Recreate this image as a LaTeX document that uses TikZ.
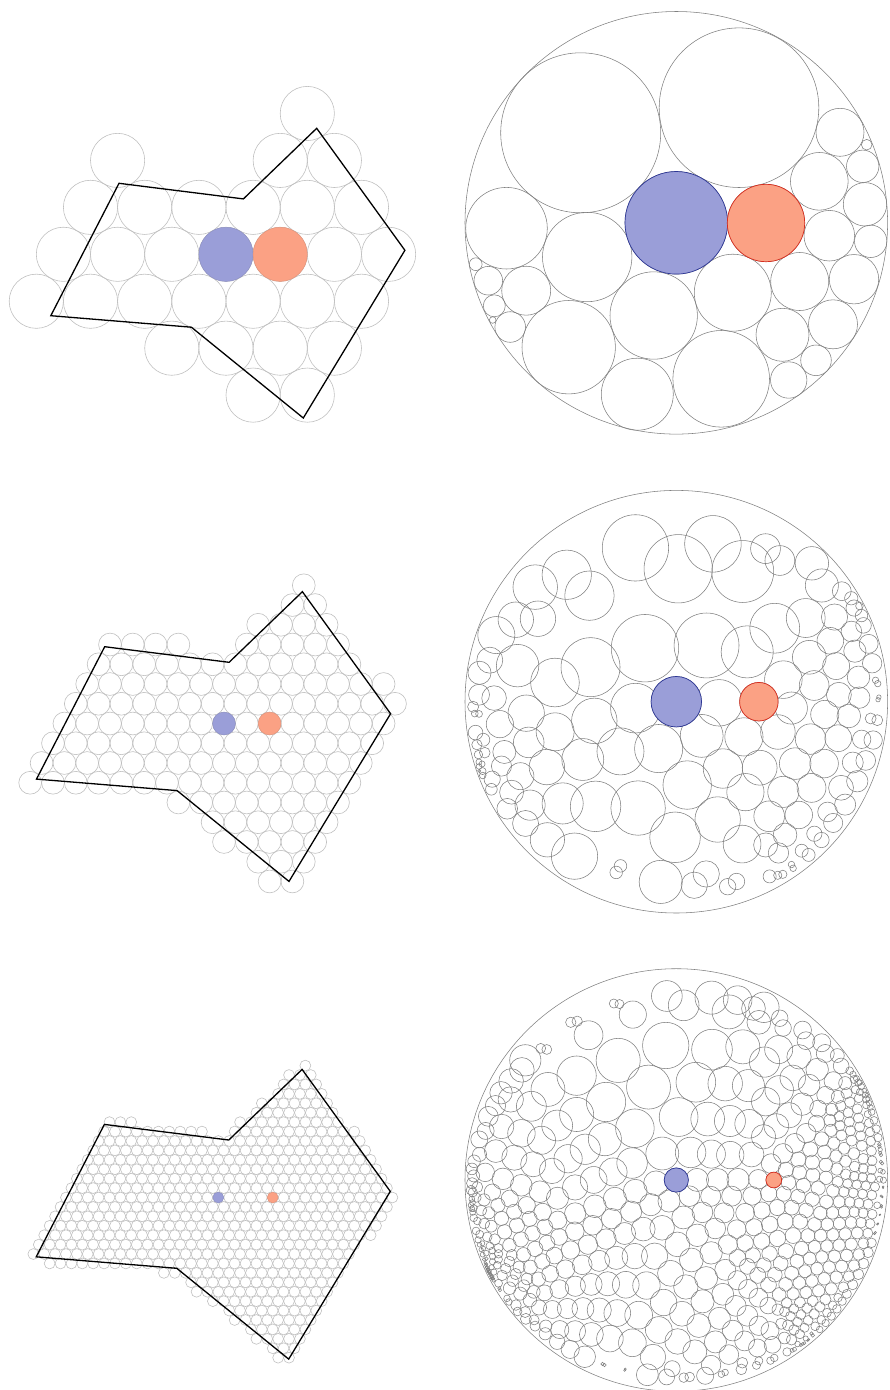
\documentclass[tikz,border=0pt]{standalone}
\usepackage{tikz}
\usetikzlibrary{calc}

\definecolor{latgray}{RGB}{192,192,192}
\definecolor{packgray}{RGB}{128,128,128}
\definecolor{blueF}{RGB}{154,158,216}
\definecolor{blueD}{RGB}{45,55,150}
\definecolor{redF}{RGB}{251,161,132}
\definecolor{redD}{RGB}{215,45,30}

\tikzset{hexc/.style={draw=latgray,line width=0.6pt},
  packc/.style={draw=packgray,line width=0.55pt},
  polyedge/.style={draw=black,line width=1.3pt,line join=miter},
  lblue/.style={fill=blueF,draw=blueF!90!black,line width=0.4pt},
  lred/.style={fill=redF,draw=redF!90!black,line width=0.4pt},
  dblue/.style={fill=blueF,draw=blueD,line width=0.7pt},
  dred/.style={fill=redF,draw=redD,line width=0.7pt}}

% the domain, in the frame of the top row
\def\polypath{(119.0,183.3) -- (243.4,198.9) -- (316.7,128.3) -- (404.9,250.3) -- (303.3,418.0) -- (191.4,327.2) -- (50.8,315.7) -- cycle}
\def\polyverts{119.0/183.3/243.4/198.9, 243.4/198.9/316.7/128.3, 316.7/128.3/404.9/250.3, 404.9/250.3/303.3/418.0, 303.3/418.0/191.4/327.2, 191.4/327.2/50.8/315.7, 50.8/315.7/119.0/183.3}
% same edges in units of 100: start/direction/1 over squared length
\def\polyedges{1.190/1.833/1.244/0.156/0.6362, 2.434/1.989/0.733/-0.706/0.9655, 3.167/1.283/0.882/1.220/0.4412, 4.049/2.503/-1.016/1.677/0.2601, 3.033/4.180/-1.119/-0.908/0.4815, 1.914/3.272/-1.406/-0.115/0.5025, 0.508/3.157/0.682/-1.324/0.4508}

% top packing: lattice i/j, disk circle x/y (from the disk centre) and radius
\def\coarse{0/0/0/0/51.3, 1/0/89.7/0.2/38.7, 0/1/62.7/-115.1/79.8, -1/1/-95.6/-90.0/80.0,
 -1/0/-89.1/34.2/44.7, 0/-1/-22.6/92.7/43.7, 1/-1/56.5/69.9/38.5, -2/0/-150.1/67.9/24.5,
 -2/1/-169.8/5.4/40.8, -1/-1/-107.6/124.4/46.7, -3/2/-200.6/41.4/6.4, -3/1/-188.0/57.9/14.3,
 -3/0/-182.0/83.0/11.0, -3/-1/-183.6/97.2/3.3, -2/-1/-166.1/104.2/15.3, 1/1/143.0/-41.5/28.8,
 2/0/153.0/12.9/25.3, 2/-1/123.4/58.7/29.0, 2/-2/106.2/112.0/26.5, 0/2/163.7/-90.5/24.0,
 0/3/190.4/-78.1/5.3, 1/2/186.4/-56.5/16.2, 2/1/188.7/-18.5/21.7, 3/0/194.4/18.5/16.2,
 3/-1/177.7/56.4/24.7, 3/-2/156.7/101.5/24.5, 3/-3/139.7/137.5/15.3, 2/-3/112.4/157.2/18.2,
 1/-2/44.9/156.0/48.3, 0/-2/-39.0/171.4/36.0}

\foreach \i/\j/\x/\y/\r in \coarse{%
  \expandafter\xdef\csname pkx@\i@\j\endcsname{\x}%
  \expandafter\xdef\csname pky@\i@\j\endcsname{\y}%
  \pgfmathsetmacro\tmp{\r/27.1}%
  \expandafter\xdef\csname pks@\i@\j\endcsname{\tmp}}

% one ring of extrapolated values round the top packing
\foreach \i in {-5,...,5}{\foreach \j in {-5,...,5}{%
  \ifcsname pkx@\i@\j\endcsname\else
    \gdef\gn{0}\gdef\gsx{0}\gdef\gsy{0}\gdef\gss{0}%
    \foreach \ua/\ub/\uc/\ud in {1/0/0/1,0/1/-1/1,-1/1/-1/0,-1/0/0/-1,0/-1/1/-1,1/-1/1/0}{%
      \edef\ia{\the\numexpr\i+\ua}\edef\ja{\the\numexpr\j+\ub}%
      \edef\ib{\the\numexpr\i+\uc}\edef\jb{\the\numexpr\j+\ud}%
      \edef\io{\the\numexpr\i+\ua+\uc}\edef\jo{\the\numexpr\j+\ub+\ud}%
      \ifcsname pkx@\ia@\ja\endcsname\ifcsname pkx@\ib@\jb\endcsname\ifcsname pkx@\io@\jo\endcsname
        \edef\va{\csname pkx@\ia@\ja\endcsname}\edef\vb{\csname pkx@\ib@\jb\endcsname}\edef\vc{\csname pkx@\io@\jo\endcsname}%
        \pgfmathsetmacro\tmp{\gsx+(\va)+(\vb)-(\vc)}\xdef\gsx{\tmp}%
        \edef\va{\csname pky@\ia@\ja\endcsname}\edef\vb{\csname pky@\ib@\jb\endcsname}\edef\vc{\csname pky@\io@\jo\endcsname}%
        \pgfmathsetmacro\tmp{\gsy+(\va)+(\vb)-(\vc)}\xdef\gsy{\tmp}%
        \edef\va{\csname pks@\ia@\ja\endcsname}\edef\vb{\csname pks@\ib@\jb\endcsname}%
        \pgfmathsetmacro\tmp{\gss+0.35*(\va+\vb)}\xdef\gss{\tmp}%
        \xdef\gn{\the\numexpr\gn+1}%
      \fi\fi\fi}%
    \ifnum\gn>0
      \pgfmathsetmacro\tmp{\gsx/\gn}\expandafter\xdef\csname pgx@\i@\j\endcsname{\tmp}%
      \pgfmathsetmacro\tmp{\gsy/\gn}\expandafter\xdef\csname pgy@\i@\j\endcsname{\tmp}%
      \pgfmathsetmacro\tmp{\gss/\gn}\expandafter\xdef\csname pgs@\i@\j\endcsname{\tmp}%
    \fi
  \fi}}

\newcommand\pkfetch[2]{%
  \def\fok{1}%
  \ifcsname pkx@#1@#2\endcsname
    \edef\fx{\csname pkx@#1@#2\endcsname}\edef\fy{\csname pky@#1@#2\endcsname}\edef\fs{\csname pks@#1@#2\endcsname}%
  \else\ifcsname pgx@#1@#2\endcsname
    \edef\fx{\csname pgx@#1@#2\endcsname}\edef\fy{\csname pgy@#1@#2\endcsname}\edef\fs{\csname pgs@#1@#2\endcsname}%
  \else
    \def\fok{0}\def\fx{0}\def\fy{0}\def\fs{0}%
  \fi\fi}

% point of the domain -> point of the unit disk (\mx,\my) and scale \ms
\newcommand\pkmap[2]{%
  \pgfmathsetmacro\lv{(254.3-(#2))/46.94}%
  \pgfmathsetmacro\lu{((#1)-226-27.1*(\lv))/54.2}%
  \pgfmathtruncatemacro\ku{floor(\lu)}\pgfmathtruncatemacro\kv{floor(\lv)}%
  \pgfmathsetmacro\fu{\lu-(\ku)}\pgfmathsetmacro\fv{\lv-(\kv)}%
  \edef\kup{\the\numexpr\ku+1}\edef\kvp{\the\numexpr\kv+1}%
  \pgfmathtruncatemacro\up{\fu+\fv>1}%
  \ifnum\up=1
    \pkfetch\kup\kvp\pgfmathsetmacro\la{(\fu+\fv-1)*\fok}\let\xa\fx\let\ya\fy\let\wa\fs
    \pkfetch\ku\kvp\pgfmathsetmacro\lb{(1-\fu)*\fok}\let\xb\fx\let\yb\fy\let\wb\fs
    \pkfetch\kup\kv\pgfmathsetmacro\lc{(1-\fv)*\fok}\let\xc\fx\let\yc\fy\let\wc\fs
  \else
    \pkfetch\ku\kv\pgfmathsetmacro\la{(1-\fu-\fv)*\fok}\let\xa\fx\let\ya\fy\let\wa\fs
    \pkfetch\kup\kv\pgfmathsetmacro\lb{\fu*\fok}\let\xb\fx\let\yb\fy\let\wb\fs
    \pkfetch\ku\kvp\pgfmathsetmacro\lc{\fv*\fok}\let\xc\fx\let\yc\fy\let\wc\fs
  \fi
  \pgfmathsetmacro\lt{\la+\lb+\lc}%
  \ifdim\lt pt<0.05pt \def\mok{0}\else\def\mok{1}%
    \pgfmathsetmacro\mx{(\la*(\xa)+\lb*(\xb)+\lc*(\xc))/\lt/211.3}%
    \pgfmathsetmacro\my{(\la*(\ya)+\lb*(\yb)+\lc*(\yc))/\lt/211.3}%
    \pgfmathsetmacro\ms{(\la*(\wa)+\lb*(\wb)+\lc*(\wc))/\lt}%
  \fi}

% blue to the centre, red to the right
\newcommand\tomobius{%
  \pgfmathsetmacro\nr{\mx-(\mbx)}\pgfmathsetmacro\nn{\my-(\mby)}%
  \pgfmathsetmacro\dr{1-(\mbx)*(\mx)-(\mby)*(\my)}\pgfmathsetmacro\di{(\mby)*(\mx)-(\mbx)*(\my)}%
  \pgfmathsetmacro\dq{\dr*\dr+\di*\di}%
  \pgfmathsetmacro\gx{(\nr*\dr+\nn*\di)/\dq}\pgfmathsetmacro\gy{(\nn*\dr-\nr*\di)/\dq}%
  \pgfmathsetmacro\px{\rc*\gx+\rs*\gy}\pgfmathsetmacro\py{\rc*\gy-\rs*\gx}%
  \pgfmathsetmacro\pr{\rr/211.3*\ms*(1-(\mbx)*(\mbx)-(\mby)*(\mby))/\dq}%
  \pgfmathsetmacro\pt{veclen(\px,\py)}%
  \pgfmathsetmacro\pe{(1+\cexp)/(1+\cexp*\pt)}%
  \pgfmathsetmacro\px{\px*\pe}\pgfmathsetmacro\py{\py*\pe}%
  \pgfmathsetmacro\pr{\pr*\pe/sqrt(1+\cexp*\pt)}%
  \pgfmathsetmacro\pt{\pt*\pe}}

% stretch so that the edge of the domain lands on the circle
\newcommand\torim{%
  \pgfmathsetmacro\bb{(atan2(\py,\px)+180)/5}%
  \pgfmathtruncatemacro\qa{floor(\bb)}%
  \pgfmathtruncatemacro\qm{mod(\qa,72)}\pgfmathtruncatemacro\qn{mod(\qa+1,72)}%
  \edef\ta{\csname tb@\qm\endcsname}\edef\tc{\csname tb@\qn\endcsname}%
  \pgfmathsetmacro\tbd{\ta+(\tc-\ta)*(\bb-\qa)}%
  \pgfmathsetmacro\hh{((\pt+0.00002)/\tbd)^0.6*(1/\tbd-1)}%
  \pgfmathsetmacro\pr{\pr*sqrt(max(0.05,(1+1.6*\hh)*(1+\hh)))}%
  \pgfmathsetmacro\px{\px*(1+\hh)}\pgfmathsetmacro\py{\py*(1+\hh)}%
  \pgfmathsetmacro\pt{\pt*(1+\hh)}%
  \pgfmathsetmacro\pq{\pt+\pr}%
  \ifdim\pq pt>0.996pt
    \pgfmathsetmacro\pr{min(\pr,0.4)}%
    \pgfmathsetmacro\px{\px*(0.996-\pr)/\pt}\pgfmathsetmacro\py{\py*(0.996-\pr)/\pt}%
  \fi}

\newcommand\rimwalk{%
  \pgfmathsetmacro\dbb{\bb-\prevb}%
  \pgfmathsetmacro\dbb{\dbb>36 ? \dbb-72 : (\dbb<-36 ? \dbb+72 : \dbb)}%
  \ifdim\dbb pt=0pt\else
    \pgfmathsetmacro\bend{\prevb+\dbb}%
    \pgfmathtruncatemacro\qa{ceil(min(\prevb,\bend))}%
    \pgfmathtruncatemacro\qb{floor(max(\prevb,\bend))}%
    \ifnum\qa>\qb\else
      \foreach \q in {\qa,...,\qb}{%
        \pgfmathsetmacro\tv{\prevt+(\pt-\prevt)*(\q-\prevb)/\dbb}%
        \pgfmathtruncatemacro\qm{mod(\q+144,72)}%
        \expandafter\xdef\csname tb@\qm\endcsname{\tv}}%
    \fi
  \fi}

% radius of the image of the domain edge, by direction
\newcommand\rimtable{%
  \foreach \q in {0,...,71}{\expandafter\gdef\csname tb@\q\endcsname{1}}%
  \pkmap{119.0}{183.3}\tomobius
  \pgfmathsetmacro\tmp{(atan2(\py,\px)+180)/5}\xdef\prevb{\tmp}\xdef\prevt{\pt}%
  \foreach \sx/\sy/\tx/\ty in \polyverts{%
    \pgfmathtruncatemacro\sn{ceil(veclen(\tx-\sx,\ty-\sy)/5)}%
    \foreach \k in {1,...,\sn}{%
      \pgfmathsetmacro\bx{\sx+(\tx-\sx)*\k/\sn}\pgfmathsetmacro\by{\sy+(\ty-\sy)*\k/\sn}%
      \pkmap\bx\by
      \ifnum\mok=1 \tomobius
        \pgfmathsetmacro\bb{(atan2(\py,\px)+180)/5}%
        \rimwalk
        \xdef\prevb{\bb}\xdef\prevt{\pt}%
      \fi}}}

% is the lattice circle at (#1,#2) part of the packing
\newcommand\polyin[2]{%
  \pgfmathsetmacro\qx{(#1)/100}\pgfmathsetmacro\qy{(#2)/100}%
  \gdef\pcr{0}%
  \foreach \ax/\ay/\ex/\ey/\il in \polyedges{%
    \pgfmathtruncatemacro\cc{\pcr+and(notequal(\ay>\qy,(\ay)+(\ey)>\qy),\qx<(\ax)+(\qy-(\ay))*(\ex)/(\ey))}%
    \xdef\pcr{\cc}}%
  \ifodd\pcr \def\pin{1}\else
    \gdef\pdm{9}%
    \foreach \ax/\ay/\ex/\ey/\il in \polyedges{%
      \pgfmathsetmacro\tp{max(0,min(1,((\qx-(\ax))*(\ex)+(\qy-(\ay))*(\ey))*\il))}%
      \pgfmathsetmacro\dm{min(\pdm,(\qx-(\ax)-\tp*(\ex))^2+(\qy-(\ay)-\tp*(\ey))^2)}%
      \xdef\pdm{\dm}}%
    \pgfmathtruncatemacro\pin{\pdm<\thr}%
  \fi}

% #1,#2 blue centre, #3 spacing, #4 red index, #5,#6 shift, #7 disk centre y, #8,#9 rows
\newcommand\finerow[9]{%
  \pgfmathsetmacro\rr{#3/2}%
  \pgfmathsetmacro\thr{(1.1*\rr/100)^2}%
  \def\mbx{0}\def\mby{0}\def\rc{1}\def\rs{0}%
  \pkmap{#1}{#2}\let\mbx\mx\let\mby\my
  \pgfmathsetmacro\rzx{#1+#4*#3}%
  \pkmap{\rzx}{#2}\tomobius
  \pgfmathsetmacro\gl{veclen(\px,\py)}%
  \pgfmathsetmacro\rc{\px/\gl}\pgfmathsetmacro\rs{\py/\gl}%
  \rimtable
  % lattice circles, and where they go
  \foreach \j in {#8,...,#9}{%
    \pgfmathtruncatemacro\ilo{ceil((38-#1-(\j)*\rr)/#3)}%
    \pgfmathtruncatemacro\ihi{floor((417-#1-(\j)*\rr)/#3)}%
    \foreach \i in {\ilo,...,\ihi}{%
      \pgfmathsetmacro\zx{#1+(\i)*#3+(\j)*\rr}%
      \pgfmathsetmacro\zy{#2-(\j)*#3*0.8660254}%
      \polyin\zx\zy
      \ifnum\pin=1
        \draw[hexc] ({\zx+(#5)},{\zy+(#6)}) circle (\rr);
        \pkmap\zx\zy
        \ifnum\mok=1 \tomobius\torim
          \expandafter\xdef\csname PX@#7@\i@\j\endcsname{\px}%
          \expandafter\xdef\csname PY@#7@\i@\j\endcsname{\py}%
          \expandafter\xdef\csname PE@#7@\i@\j\endcsname{\pr}%
        \fi
      \fi}}%
  \draw[lblue] ({#1+(#5)},{#2+(#6)}) circle (\rr);
  \draw[lred] ({\rzx+(#5)},{#2+(#6)}) circle (\rr);
  % disk circles sized by the distances to their neighbours
  \foreach \j in {#8,...,#9}{%
    \pgfmathtruncatemacro\ilo{ceil((38-#1-(\j)*\rr)/#3)}%
    \pgfmathtruncatemacro\ihi{floor((417-#1-(\j)*\rr)/#3)}%
    \foreach \i in {\ilo,...,\ihi}{%
      \ifcsname PX@#7@\i@\j\endcsname
        \edef\cx{\csname PX@#7@\i@\j\endcsname}\edef\cy{\csname PY@#7@\i@\j\endcsname}%
        \gdef\dsum{0}\gdef\dcnt{0}\gdef\dmin{9}%
        \foreach \ua/\ub in {1/0,0/1,-1/1,-1/0,0/-1,1/-1}{%
          \edef\ia{\the\numexpr\i+\ua}\edef\ja{\the\numexpr\j+\ub}%
          \ifcsname PX@#7@\ia@\ja\endcsname
            \edef\nx{\csname PX@#7@\ia@\ja\endcsname}\edef\ny{\csname PY@#7@\ia@\ja\endcsname}%
            \pgfmathsetmacro\dst{veclen(\nx-(\cx),\ny-(\cy))}%
            \pgfmathsetmacro\tmp{\dsum+\dst}\xdef\dsum{\tmp}%
            \pgfmathsetmacro\tmp{min(\dmin,\dst)}\xdef\dmin{\tmp}%
            \xdef\dcnt{\the\numexpr\dcnt+1}%
          \fi}%
        \ifnum\dcnt>0
          \pgfmathsetmacro\rad{min(min(0.5*\dsum/\dcnt,0.8*\dmin),max(0.001,0.996-veclen(\cx,\cy)))}%
        \else
          \edef\rad{\csname PE@#7@\i@\j\endcsname}%
        \fi
        \draw[packc] ({676.3+211.3*\cx},{#7+211.3*\cy}) circle ({211.3*\rad});
        \expandafter\xdef\csname PR@#7@\i@\j\endcsname{\rad}%
      \fi}}%
  \edef\cx{\csname PX@#7@0@0\endcsname}\edef\cy{\csname PY@#7@0@0\endcsname}\edef\rad{\csname PR@#7@0@0\endcsname}%
  \draw[dblue] ({676.3+211.3*\cx},{#7+211.3*\cy}) circle ({211.3*\rad});
  \edef\cx{\csname PX@#7@#4@0\endcsname}\edef\cy{\csname PY@#7@#4@0\endcsname}\edef\rad{\csname PR@#7@#4@0\endcsname}%
  \draw[dred] ({676.3+211.3*\cx},{#7+211.3*\cy}) circle ({211.3*\rad});}

\begin{document}
\begin{tikzpicture}[x=1pt,y=-1pt]
\useasboundingbox (0,0) rectangle (890,1390);
% coarse lattice and its packing
\foreach \i/\j/\x/\y/\r in \coarse{\draw[hexc] ({226+54.2*(\i)+27.1*(\j)},{254.3-46.94*(\j)}) circle (27.1);}
\draw[lblue] (226,254.3) circle (27.1);
\draw[lred] (280.2,254.3) circle (27.1);
\draw[polyedge] \polypath;
\draw[packc] (676.3,222.8) circle (211.3);
\foreach \i/\j/\x/\y/\r in \coarse{\draw[packc] ({676.3+(\x)},{222.8+(\y)}) circle (\r);}
\draw[dblue] (676.3,222.8) circle (51.3);
\draw[dred] (766.0,223.0) circle (38.7);
% finer lattices
\draw[packc] (676.3,701.7) circle (211.3);
\def\cexp{0.1}
\finerow{238.3}{260.1}{22.8}{2}{-14.3}{463.4}{701.7}{-9}{8}
\draw[polyedge,shift={(-14.3,463.4)}] \polypath;
\draw[packc] (676.3,1180) circle (211.3);
\def\cexp{0.15}
\finerow{232.9}{256.4}{10.88}{5}{-14.6}{941.1}{1180}{-19}{15}
\draw[polyedge,shift={(-14.6,941.1)}] \polypath;
\end{tikzpicture}
\end{document}
